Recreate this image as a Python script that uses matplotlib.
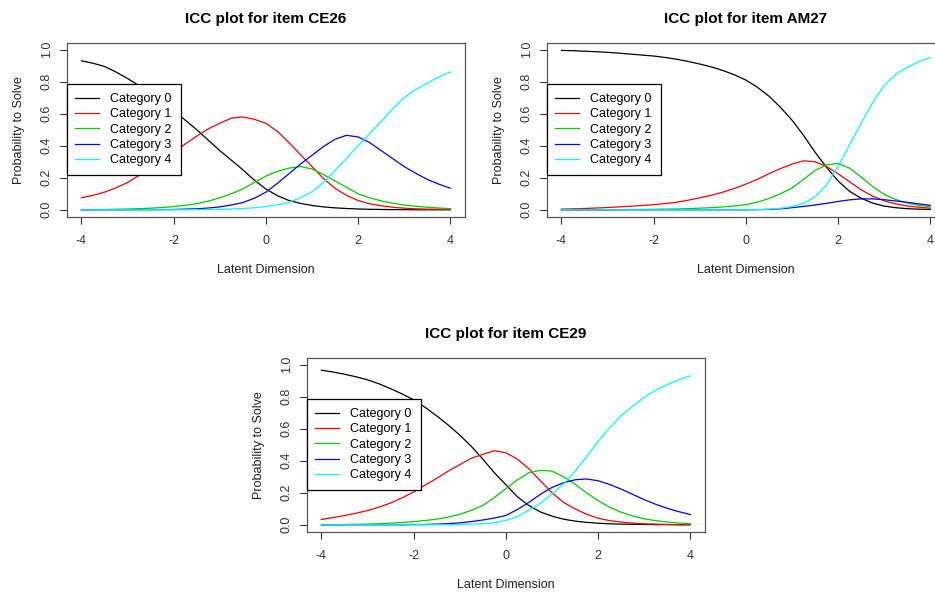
import matplotlib
matplotlib.use('Agg')
import matplotlib.pyplot as plt

# latent dimension grid, values at 0.25 steps
theta = [-4, -3.75, -3.5, -3.25, -3, -2.75, -2.5, -2.25, -2, -1.75, -1.5, -1.25, -1, -0.75, -0.5, -0.25,
	0, 0.25, 0.5, 0.75, 1, 1.25, 1.5, 1.75, 2, 2.25, 2.5, 2.75, 3, 3.25, 3.5, 3.75, 4]

categories = ["Category 0", "Category 1", "Category 2", "Category 3", "Category 4"]
colors = ["black", "#FF0000", "#00CD00", "#0000FF", "#00FFFF"]

# item CE26, one row per category
ce26 = [
	[0.93, 0.915, 0.895, 0.86, 0.82, 0.775, 0.725, 0.675, 0.62, 0.56, 0.50, 0.435, 0.37, 0.31, 0.25, 0.185,
	 0.13, 0.088, 0.058, 0.04, 0.027, 0.018, 0.012, 0.008, 0.005, 0.003, 0.002, 0.001, 0.001, 0.0, 0.0, 0.0, 0.0],
	[0.075, 0.09, 0.11, 0.137, 0.17, 0.215, 0.265, 0.31, 0.36, 0.41, 0.46, 0.505, 0.54, 0.572, 0.58, 0.565,
	 0.54, 0.49, 0.42, 0.345, 0.27, 0.195, 0.135, 0.09, 0.058, 0.038, 0.025, 0.016, 0.01, 0.006, 0.004, 0.003, 0.002],
	[0.0, 0.001, 0.002, 0.003, 0.005, 0.007, 0.01, 0.014, 0.02, 0.028, 0.038, 0.054, 0.075, 0.10, 0.13, 0.17,
	 0.21, 0.24, 0.26, 0.27, 0.255, 0.22, 0.18, 0.14, 0.10, 0.075, 0.056, 0.041, 0.03, 0.022, 0.016, 0.011, 0.007],
	[0.0, 0.0, 0.0, 0.0, 0.0, 0.0, 0.001, 0.001, 0.002, 0.004, 0.006, 0.011, 0.018, 0.03, 0.045, 0.072,
	 0.11, 0.165, 0.225, 0.285, 0.34, 0.395, 0.44, 0.465, 0.455, 0.42, 0.37, 0.32, 0.27, 0.228, 0.19, 0.16, 0.135],
	[0.0, 0.0, 0.0, 0.0, 0.0, 0.0, 0.0, 0.0, 0.0, 0.0, 0.001, 0.002, 0.003, 0.005, 0.008, 0.013,
	 0.02, 0.031, 0.046, 0.075, 0.112, 0.17, 0.245, 0.32, 0.40, 0.475, 0.55, 0.63, 0.70, 0.75, 0.79, 0.83, 0.86],
]

# item AM27
am27 = [
	[0.995, 0.993, 0.99, 0.987, 0.983, 0.978, 0.972, 0.966, 0.96, 0.951, 0.94, 0.926, 0.91, 0.892, 0.87, 0.843,
	 0.81, 0.765, 0.71, 0.64, 0.56, 0.465, 0.36, 0.265, 0.18, 0.115, 0.072, 0.042, 0.023, 0.013, 0.007, 0.004, 0.002],
	[0.004, 0.006, 0.008, 0.011, 0.014, 0.018, 0.022, 0.027, 0.032, 0.039, 0.047, 0.06, 0.075, 0.091, 0.11, 0.133,
	 0.16, 0.19, 0.225, 0.257, 0.285, 0.306, 0.30, 0.27, 0.225, 0.175, 0.125, 0.085, 0.056, 0.037, 0.024, 0.016, 0.01],
	[0.0, 0.0, 0.0, 0.0, 0.001, 0.001, 0.002, 0.002, 0.003, 0.004, 0.005, 0.007, 0.01, 0.013, 0.018, 0.024,
	 0.032, 0.048, 0.07, 0.10, 0.135, 0.19, 0.245, 0.28, 0.29, 0.26, 0.205, 0.145, 0.097, 0.064, 0.042, 0.028, 0.019],
	[0.0, 0.0, 0.0, 0.0, 0.0, 0.0, 0.0, 0.0, 0.0, 0.0, 0.0, 0.0, 0.0, 0.0, 0.0, 0.0,
	 0.0, 0.001, 0.002, 0.006, 0.013, 0.021, 0.03, 0.04, 0.052, 0.062, 0.068, 0.068, 0.063, 0.055, 0.047, 0.037, 0.028],
	[0.0, 0.0, 0.0, 0.0, 0.0, 0.0, 0.0, 0.0, 0.0, 0.0, 0.0, 0.0, 0.0, 0.0, 0.0, 0.0,
	 0.0, 0.001, 0.004, 0.009, 0.02, 0.04, 0.08, 0.155, 0.27, 0.405, 0.54, 0.67, 0.775, 0.845, 0.89, 0.925, 0.95],
]

# item CE29
ce29 = [
	[0.965, 0.954, 0.94, 0.924, 0.905, 0.88, 0.85, 0.817, 0.78, 0.733, 0.68, 0.623, 0.56, 0.49, 0.41, 0.325,
	 0.25, 0.175, 0.12, 0.08, 0.054, 0.035, 0.023, 0.015, 0.01, 0.006, 0.004, 0.003, 0.002, 0.001, 0.001, 0.0, 0.0],
	[0.033, 0.045, 0.058, 0.072, 0.089, 0.11, 0.136, 0.168, 0.205, 0.248, 0.29, 0.335, 0.375, 0.415, 0.44, 0.462,
	 0.45, 0.41, 0.35, 0.275, 0.20, 0.14, 0.10, 0.066, 0.041, 0.026, 0.017, 0.01, 0.006, 0.004, 0.002, 0.001, 0.001],
	[0.0, 0.001, 0.002, 0.003, 0.004, 0.007, 0.01, 0.014, 0.02, 0.027, 0.035, 0.048, 0.065, 0.09, 0.12, 0.17,
	 0.225, 0.28, 0.325, 0.34, 0.335, 0.30, 0.254, 0.20, 0.151, 0.11, 0.079, 0.055, 0.037, 0.026, 0.017, 0.011, 0.006],
	[0.0, 0.0, 0.0, 0.0, 0.0, 0.0, 0.0, 0.0, 0.001, 0.002, 0.004, 0.007, 0.012, 0.02, 0.03, 0.042,
	 0.058, 0.095, 0.14, 0.19, 0.233, 0.262, 0.281, 0.286, 0.275, 0.252, 0.223, 0.19, 0.157, 0.128, 0.103, 0.082, 0.064],
	[0.0, 0.0, 0.0, 0.0, 0.0, 0.0, 0.0, 0.0, 0.0, 0.0, 0.0, 0.0, 0.002, 0.004, 0.006, 0.013,
	 0.027, 0.05, 0.09, 0.135, 0.19, 0.255, 0.335, 0.425, 0.52, 0.605, 0.68, 0.74, 0.795, 0.84, 0.875, 0.905, 0.93],
]

plt.rcParams['font.family'] = ['Liberation Sans', 'DejaVu Sans']


def plot_icc(ax, probs, item):
	"""one ICC panel in base-R look"""
	for k, p in enumerate(probs):
		ax.plot(theta, p, color=colors[k], lw=0.9, label=categories[k])
	ax.set_xlim(-4.32, 4.32)
	ax.set_ylim(-0.0432, 1.0432)
	ax.set_xticks([-4, -2, 0, 2, 4])
	ax.set_xticklabels(["-4", "-2", "0", "2", "4"])
	ax.set_yticks([0, 0.2, 0.4, 0.6, 0.8, 1.0])
	ax.set_yticklabels(["0.0", "0.2", "0.4", "0.6", "0.8", "1.0"], rotation=90, va='center')
	ax.tick_params(direction='out', length=5, width=0.8, labelsize=9, colors='#333333')
	ax.tick_params(axis='x', pad=8)
	ax.tick_params(axis='y', pad=5)
	for s in ax.spines.values():
		s.set_linewidth(0.9)
		s.set_color('#555555')
	ax.set_title("ICC plot for item " + item, fontsize=11, fontweight='bold', pad=14)
	ax.set_xlabel("Latent Dimension", fontsize=9, color='#222222')
	ax.xaxis.set_label_coords(0.5, -0.27)
	ax.set_ylabel("Probability to Solve", fontsize=9, color='#222222')
	ax.yaxis.set_label_coords(-0.105, 0.5)
	leg = ax.legend(loc='center left', bbox_to_anchor=(0, 0.5), borderaxespad=0,
		fontsize=9, fancybox=False, framealpha=1, edgecolor='black',
		handlelength=1.9, handletextpad=0.9, labelspacing=0.27, borderpad=0.7)
	leg.get_frame().set_linewidth(0.9)


fig = plt.figure(figsize=(9.35, 5.94), dpi=100)
W, H = 935.0, 594.0
aw, ah = 398.3 / W, 174.0 / H

ax1 = fig.add_axes([66.7 / W, 1 - 216.7 / H, aw, ah])
ax2 = fig.add_axes([546.7 / W, 1 - 216.7 / H, aw, ah])
ax3 = fig.add_axes([306.7 / W, 1 - 531.7 / H, aw, ah])

plot_icc(ax1, ce26, "CE26")
plot_icc(ax2, am27, "AM27")
plot_icc(ax3, ce29, "CE29")

plt.savefig("out.png", dpi=100)
